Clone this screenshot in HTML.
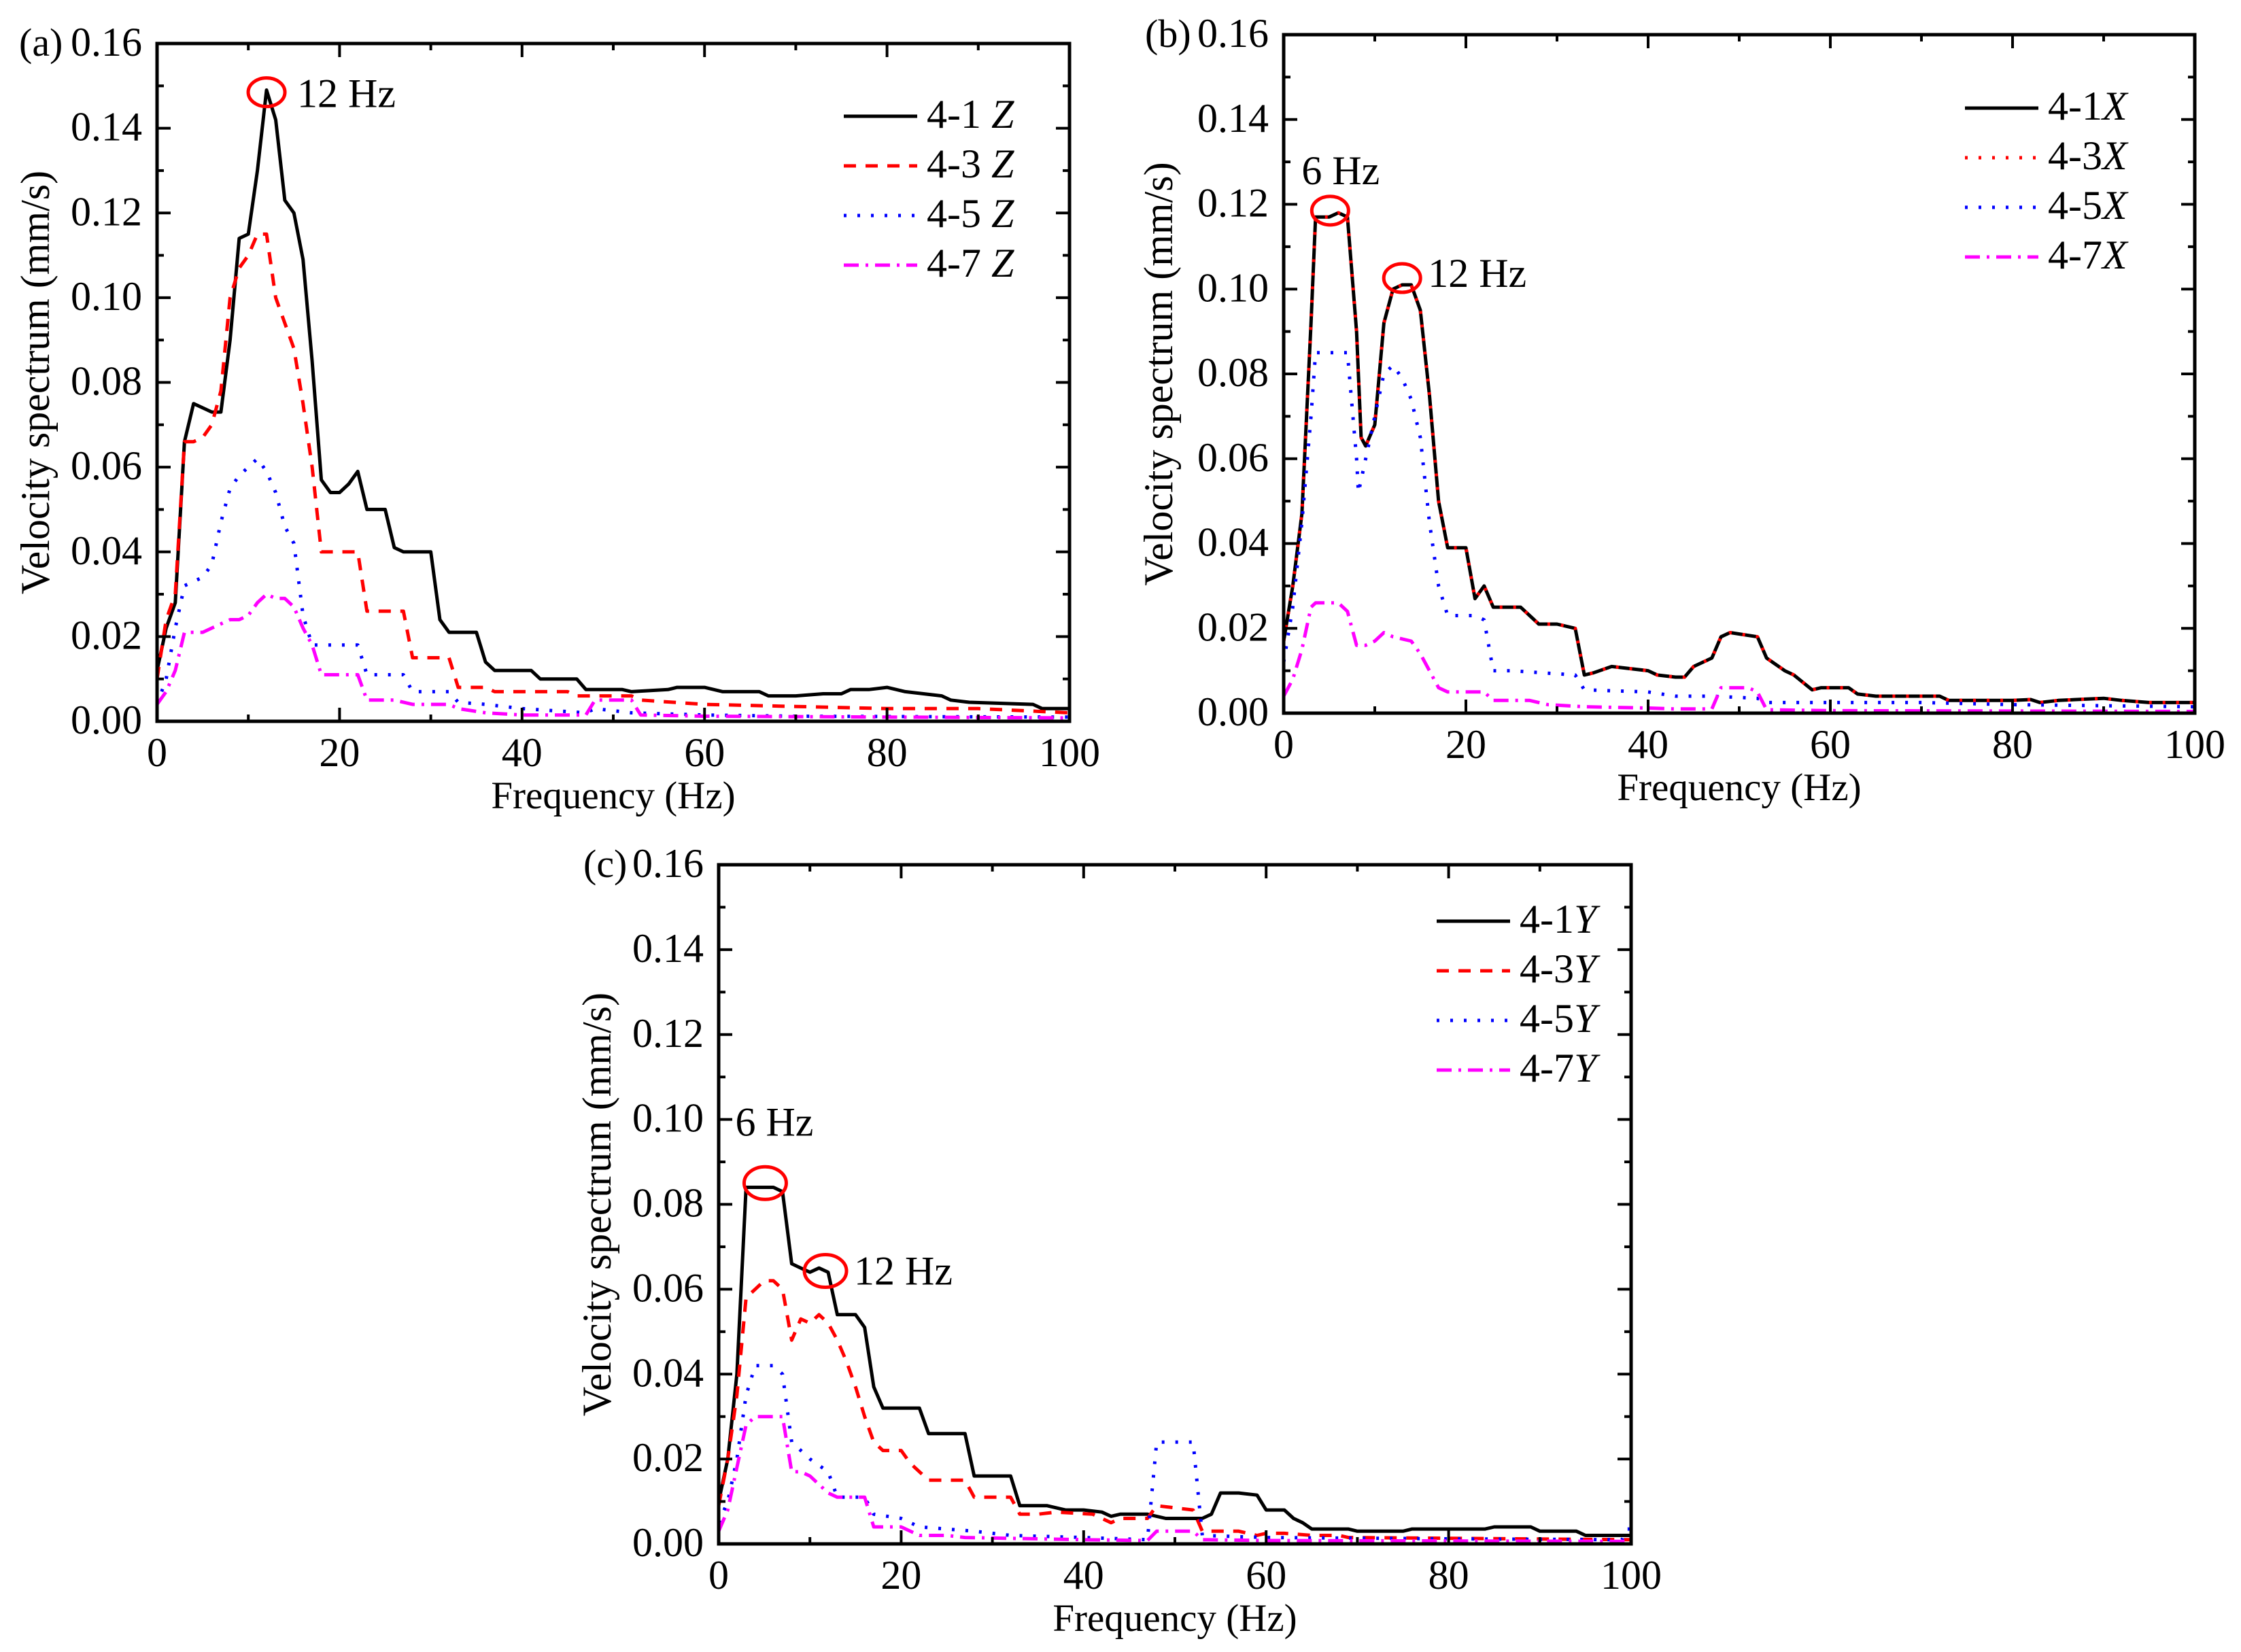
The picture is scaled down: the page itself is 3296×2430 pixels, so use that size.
<!DOCTYPE html>
<html><head><meta charset="utf-8">
<style>
html,body{margin:0;padding:0;background:#fff;}
svg{display:block;font-family:"Liberation Serif","Times New Roman",serif;}
</style></head>
<body>
<svg id="fig" width="3296" height="2430" viewBox="0 0 3296 2430" xmlns="http://www.w3.org/2000/svg"></svg>
<script>
// ---- Panel (a) Z data ----
const aF1=[0,1,2,3,4,5,6,7,8,9,10,11,12,13,14,15,16,17,18,19,20,21,22,23,25,26,27,30,31,32,35,36,37,41,42,46,47,51,52,56,57,60,62,66,67,70,73,75,76,78,80,82,84,86,87,89,96,97,100];
const aV1=[0.012,0.022,0.028,0.066,0.075,0.074,0.073,0.073,0.09,0.114,0.115,0.13,0.149,0.142,0.123,0.120,0.109,0.085,0.057,0.054,0.054,0.056,0.059,0.050,0.050,0.041,0.040,0.040,0.024,0.021,0.021,0.014,0.012,0.012,0.010,0.010,0.0075,0.0075,0.007,0.0075,0.008,0.008,0.007,0.007,0.006,0.006,0.0065,0.0065,0.0075,0.0075,0.008,0.007,0.0065,0.006,0.005,0.0045,0.004,0.003,0.003];
const aF3=[0,1,2,3,4,5,6,7,8,9,10,11,12,13,14,15,16,17,18,22,23,27,28,32,33,36,37,45,46,52,53,60,70,80,90,100];
const aV3=[0.010,0.024,0.030,0.066,0.066,0.067,0.070,0.078,0.100,0.107,0.110,0.115,0.115,0.100,0.094,0.088,0.075,0.060,0.040,0.040,0.026,0.026,0.015,0.015,0.008,0.008,0.007,0.007,0.006,0.006,0.005,0.004,0.0035,0.003,0.003,0.002];
const aF5=[0,1,2,3,4,5,6,7,8,9,10,11,12,13,14,15,16,17,18,22,23,27,28,32,33,36,40,47,48,52,60,70,100];
const aV5=[0.004,0.010,0.022,0.032,0.033,0.034,0.037,0.047,0.055,0.058,0.060,0.062,0.059,0.054,0.046,0.042,0.025,0.018,0.018,0.018,0.011,0.011,0.007,0.007,0.0045,0.004,0.003,0.002,0.003,0.002,0.0015,0.0012,0.001];
const aF7=[0,1,2,3,4,5,6,7,8,9,10,11,12,13,14,15,16,17,18,19,22,23,26,28,32,33,36,40,47,48,52,53,60,100];
const aV7=[0.004,0.007,0.012,0.021,0.021,0.021,0.022,0.023,0.024,0.024,0.025,0.028,0.030,0.029,0.029,0.027,0.022,0.018,0.011,0.011,0.011,0.005,0.005,0.004,0.004,0.003,0.002,0.0015,0.0015,0.005,0.005,0.0015,0.0012,0.0008];
// ---- Panel (b) X data ----
const bF1=[0,1,2,3,3.5,5,6,7,8,8.5,9,10,11,12,13,14,15,16,17,18,20,21,22,23,26,27,28,30,32,33,34,36,38,40,41,43,44,45,47,48,49,52,53,55,56,58,59,62,63,65,72,73,80,82,83,85,88,90,92,95,100];
const bV1=[0.017,0.030,0.047,0.092,0.117,0.117,0.118,0.117,0.090,0.065,0.063,0.068,0.092,0.100,0.101,0.101,0.095,0.075,0.050,0.039,0.039,0.027,0.030,0.025,0.025,0.023,0.021,0.021,0.020,0.009,0.0095,0.011,0.0105,0.010,0.009,0.0085,0.0085,0.011,0.013,0.018,0.019,0.018,0.013,0.010,0.009,0.0055,0.006,0.006,0.0045,0.004,0.004,0.003,0.003,0.0032,0.0025,0.003,0.0033,0.0035,0.003,0.0025,0.0025];
const bF3=bF1.slice();
const bV3=bV1.slice();
const bF5=[0,1,2,3,3.5,7,8,8.2,9,10,11,12,13,14,15,16,17,18,21,22,23,25,32,33,40,43,47,52,53,60,70,80,100];
const bV5=[0.012,0.025,0.045,0.070,0.085,0.085,0.060,0.052,0.060,0.070,0.080,0.082,0.079,0.074,0.065,0.045,0.030,0.023,0.023,0.022,0.010,0.010,0.009,0.0055,0.005,0.004,0.004,0.0035,0.0025,0.0025,0.0025,0.002,0.0015];
const bF7=[0,1,2,3,3.5,6,7,8,9,10,11,12,14,15,16,17,18,20,22,23,27,29,33,40,43,47,48,51,52,53,60,100];
const bV7=[0.004,0.008,0.015,0.025,0.026,0.026,0.024,0.016,0.016,0.017,0.019,0.018,0.017,0.014,0.010,0.006,0.005,0.005,0.005,0.003,0.003,0.002,0.0015,0.0012,0.001,0.001,0.006,0.006,0.005,0.0008,0.0006,0.0004];
// ---- Panel (c) Y data ----
const cF1=[0,1,2,3,4,6,7,8,9,10,11,12,13,15,16,17,18,22,23,27,28,32,33,36,38,40,42,43,44,47,49,53,54,55,57,59,60,62,63,64,65,69,70,75,76,84,85,89,90,94,95,100];
const cV1=[0.010,0.020,0.040,0.084,0.084,0.084,0.083,0.066,0.065,0.064,0.065,0.064,0.054,0.054,0.051,0.037,0.032,0.032,0.026,0.026,0.016,0.016,0.009,0.009,0.008,0.008,0.0075,0.0065,0.007,0.007,0.006,0.006,0.007,0.012,0.012,0.0115,0.008,0.008,0.006,0.005,0.0035,0.0035,0.003,0.003,0.0035,0.0035,0.004,0.004,0.003,0.003,0.002,0.002];
const cF3=[0,1,2,3,4,5,6,7,8,9,10,11,12,13,14,15,16,17,18,20,21,23,27,28,32,33,35,37,41,43,44,47,48,52,53,57,59,60,62,65,68,69,100];
const cV3=[0.009,0.020,0.035,0.058,0.060,0.062,0.062,0.060,0.048,0.053,0.052,0.054,0.052,0.048,0.043,0.037,0.030,0.024,0.022,0.022,0.019,0.015,0.015,0.011,0.011,0.007,0.007,0.0075,0.007,0.005,0.006,0.006,0.009,0.008,0.003,0.003,0.002,0.0025,0.0025,0.002,0.002,0.0015,0.001];
const cF5=[0,1,2,3,4,6,7,8,9,10,12,13,16,17,20,22,28,32,40,47,48,52,53,60,80,99,99.5,100];
const cV5=[0.005,0.010,0.020,0.035,0.042,0.042,0.040,0.024,0.022,0.020,0.017,0.011,0.011,0.007,0.006,0.004,0.003,0.002,0.0015,0.001,0.024,0.024,0.002,0.0015,0.0012,0.001,0.0035,0.0035];
const cF7=[0,1,2,3,4,7,8,9,10,12,13,16,17,20,22,25,27,40,47,48,52,53,60,100];
const cV7=[0.003,0.008,0.018,0.028,0.030,0.030,0.017,0.017,0.016,0.012,0.011,0.011,0.004,0.004,0.002,0.002,0.0015,0.001,0.0008,0.003,0.003,0.001,0.0008,0.0006];

const xTicks=[0,20,40,60,80,100];
const yTicks=[0,0.02,0.04,0.06,0.08,0.10,0.12,0.14,0.16];
const yTickLabels=["0.00","0.02","0.04","0.06","0.08","0.10","0.12","0.14","0.16"];

const NS="http://www.w3.org/2000/svg";
const svg=document.getElementById('fig');
function mk(tag,attrs,parent){const e=document.createElementNS(NS,tag);for(const k in attrs)e.setAttribute(k,attrs[k]);(parent||svg).appendChild(e);return e;}

const STY={
 black:{stroke:'#000',dash:''},
 red:{stroke:'#ff0000',dash:'18 14'},
 reddot:{stroke:'#ff0000',dash:'4 16'},
 blue:{stroke:'#0000ff',dash:'4 16'},
 mag:{stroke:'#ff00ff',dash:'22 10 4 10'}
};

function panel(p){
 const g=mk('g',{});
 
 
 const X=f=>p.L+(f/100)*(p.R-p.L);
 const Y=v=>p.B-(v/0.16)*(p.B-p.T);
 p.series.forEach(s=>{
  const pts=s.f.map((f,i)=>X(f).toFixed(1)+','+Y(s.v[i]).toFixed(1)).join(' ');
  const pl=mk('polyline',{points:pts,fill:'none',stroke:STY[s.sty].stroke,'stroke-width':5,'stroke-dasharray':STY[s.sty].dash,'stroke-linejoin':'round','stroke-linecap':s.sty==='black'?'round':'butt'},g);
  
  
 });
 const box=mk('rect',{x:p.L,y:p.T,width:p.R-p.L,height:p.B-p.T,fill:'none',stroke:'#000','stroke-width':5},g);
 
 
 for(let f=0;f<=100;f+=10){
  const major=f%20===0, len=major?20:10, x=X(f);
  mk('line',{x1:x,y1:p.B,x2:x,y2:p.B-len,stroke:'#000','stroke-width':4},g);
  mk('line',{x1:x,y1:p.T,x2:x,y2:p.T+len,stroke:'#000','stroke-width':4},g);
 }
 xTicks.forEach(f=>{
  const t=mk('text',{x:X(f),y:p.B+66,'font-size':60,'text-anchor':'middle'},g);
  t.textContent=String(f);
  
  
 });
 for(let i=0;i<=16;i++){
  const v=i*0.01, major=i%2===0, len=major?20:10, y=Y(v);
  mk('line',{x1:p.L,y1:y,x2:p.L+len,y2:y,stroke:'#000','stroke-width':4},g);
  mk('line',{x1:p.R,y1:y,x2:p.R-len,y2:y,stroke:'#000','stroke-width':4},g);
 }
 yTicks.forEach((v,i)=>{
  const t=mk('text',{x:p.L-22,y:Y(v)+18,'font-size':60,'text-anchor':'end'},g);
  t.textContent=yTickLabels[i];
  
  
 });
 const xt=mk('text',{x:(p.L+p.R)/2,y:p.B+128,'font-size':57,'text-anchor':'middle'},g);
 xt.textContent='Frequency (Hz)';
 
 
 const yc=(p.T+p.B)/2, yx=p.yTitleX;
 const yt=mk('text',{x:yx,y:yc,'font-size':60,'text-anchor':'middle',transform:`rotate(-90 ${yx} ${yc})`},g);
 yt.textContent='Velocity spectrum (mm/s)';
 
 
 const pl=mk('text',{x:p.labX,y:p.T+18,'font-size':58},g);
 pl.textContent='('+p.id+')';
 
 
 p.series.forEach((s,i)=>{
  const ly=p.legY+i*73;
  const ln=mk('line',{x1:p.legX,y1:ly,x2:p.legX+108,y2:ly,stroke:STY[s.sty].stroke,'stroke-width':5,'stroke-dasharray':STY[s.sty].dash},g);
  
  
  const t=mk('text',{x:p.legX+122,y:ly+17,'font-size':60},g);
  
  
  const parts=s.name.split(' ');
  const a=mk('tspan',{},t); a.textContent=parts[0]+(p.legSpace?' ':'');
  const b=mk('tspan',{'font-style':'italic'},t); b.textContent=parts[1];
 });
 p.notes.forEach(n=>{
  const e=mk('ellipse',{cx:X(n.f),cy:Y(n.v),rx:n.rx||27,ry:n.ry||21,fill:'none',stroke:'#ff0000','stroke-width':5},g);
  
  
  const t=mk('text',{x:X(n.f)+n.dx,y:Y(n.v)+n.dy,'font-size':60},g);
  t.textContent=n.label;
  
  
 });
}

panel({id:'a',L:231,R:1573,T:64,B:1061,yTitleX:72,labX:28,legX:1241,legY:171,legSpace:true,
 series:[{name:'4-1 Z',f:aF1,v:aV1,sty:'black'},{name:'4-3 Z',f:aF3,v:aV3,sty:'red'},{name:'4-5 Z',f:aF5,v:aV5,sty:'blue'},{name:'4-7 Z',f:aF7,v:aV7,sty:'mag'}],
 notes:[{f:12,v:0.1485,label:'12 Hz',dx:45,dy:22}]});
panel({id:'b',L:1888,R:3228,T:51,B:1049,yTitleX:1724,labX:1684,legX:2890,legY:159,legSpace:false,
 series:[{name:'4-1 X',f:bF1,v:bV1,sty:'black'},{name:'4-3 X',f:bF3,v:bV3,sty:'reddot'},{name:'4-5 X',f:bF5,v:bV5,sty:'blue'},{name:'4-7 X',f:bF7,v:bV7,sty:'mag'}],
 notes:[{f:5.1,v:0.1185,label:'6 Hz',dx:-42,dy:-39},{f:13,v:0.1026,label:'12 Hz',dx:38,dy:13}]});
panel({id:'c',L:1057,R:2399,T:1272,B:2271,yTitleX:898,labX:858,legX:2113,legY:1355,legSpace:false,
 series:[{name:'4-1 Y',f:cF1,v:cV1,sty:'black'},{name:'4-3 Y',f:cF3,v:cV3,sty:'red'},{name:'4-5 Y',f:cF5,v:cV5,sty:'blue'},{name:'4-7 Y',f:cF7,v:cV7,sty:'mag'}],
 notes:[{f:5.1,v:0.085,label:'6 Hz',dx:-44,dy:-70,rx:31,ry:24},{f:11.7,v:0.0643,label:'12 Hz',dx:42,dy:20,rx:31,ry:24}]});
</script>
</body></html>
